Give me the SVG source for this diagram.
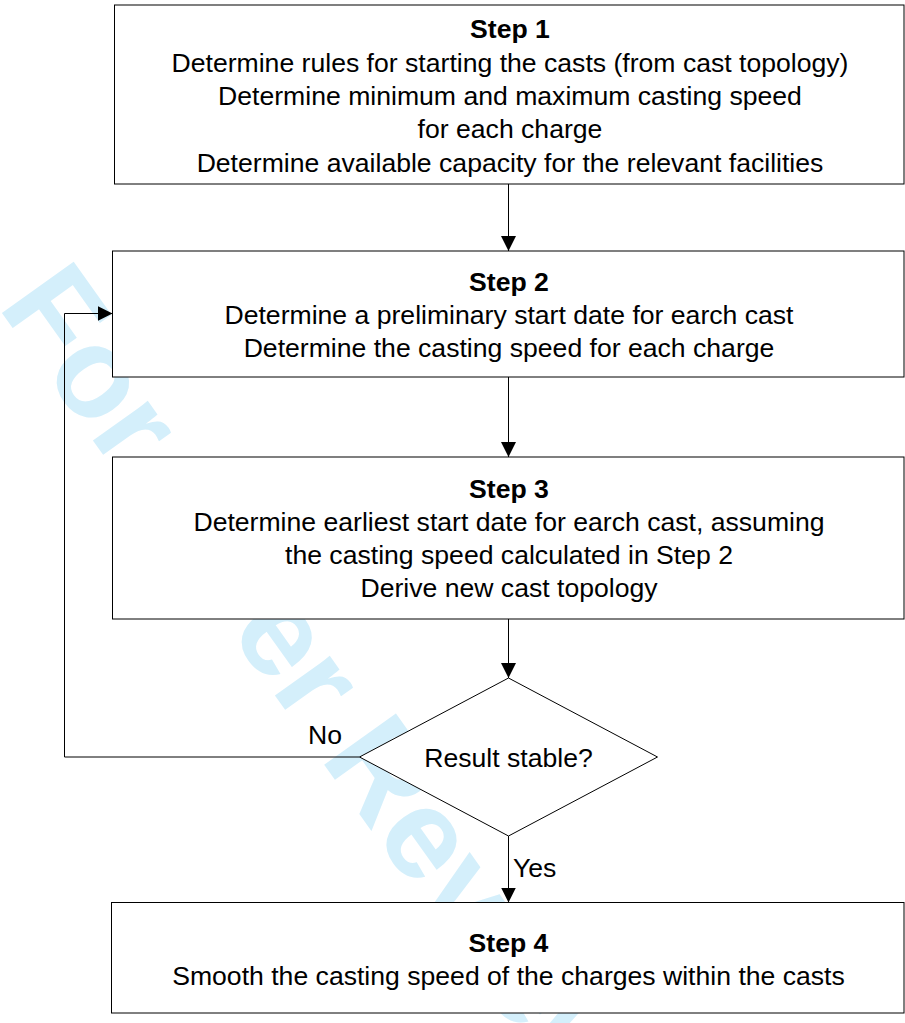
<svg xmlns="http://www.w3.org/2000/svg" width="905" height="1023" viewBox="0 0 905 1023">
<style>
  .box { fill: #ffffff; stroke: #000000; stroke-width: 1; }
  .t { font-family: "Liberation Sans", Arial, sans-serif; font-size: 26.6px; fill: #000000; text-anchor: middle; }
  .b { font-weight: bold; }
  .lbl { font-family: "Liberation Sans", Arial, sans-serif; font-size: 26.6px; fill: #000000; }
  .wm { font-family: "Liberation Sans", Arial, sans-serif; font-size: 128px; font-weight: bold; fill: #d4effb; }
  .conn { fill: none; stroke: #000000; stroke-width: 1; }
</style>
<defs>
  <marker id="arr" viewBox="0 0 15 15" refX="15" refY="7.5" markerWidth="15" markerHeight="15" orient="auto" markerUnits="userSpaceOnUse">
    <path d="M0,0 L15,7.5 L0,15 z" fill="#000000"/>
  </marker>
</defs>
<rect width="905" height="1023" fill="#ffffff"/>
<text class="wm" transform="translate(-3,306) rotate(54.5)">For Peer Review</text>

<g id="connectors">
  <line class="conn" x1="508.5" y1="184" x2="508.5" y2="251" marker-end="url(#arr)"/>
  <line class="conn" x1="508.5" y1="377" x2="508.5" y2="457" marker-end="url(#arr)"/>
  <line class="conn" x1="508.5" y1="619" x2="508.5" y2="678" marker-end="url(#arr)"/>
  <line class="conn" x1="508.5" y1="836" x2="508.5" y2="902.5" marker-end="url(#arr)"/>
  <polyline class="conn" points="359.5,757 64.5,757 64.5,313.5 112.5,313.5" marker-end="url(#arr)"/>
</g>

<g id="step1">
  <rect class="box" x="114.5" y="5" width="789.5" height="179"/>
  <text class="t b" x="510" y="38.3">Step 1</text>
  <text class="t" x="510" y="71.7">Determine rules for starting the casts (from cast topology)</text>
  <text class="t" x="510" y="105">Determine minimum and maximum casting speed</text>
  <text class="t" x="510" y="138.3">for each charge</text>
  <text class="t" x="510" y="171.7">Determine available capacity for the relevant facilities</text>
</g>

<g id="step2">
  <rect class="box" x="112.5" y="251" width="791.5" height="126"/>
  <text class="t b" x="509" y="290.5">Step 2</text>
  <text class="t" x="509" y="323.8">Determine a preliminary start date for earch cast</text>
  <text class="t" x="509" y="357.1">Determine the casting speed for each charge</text>
</g>

<g id="step3">
  <rect class="box" x="112.5" y="457" width="791.5" height="162"/>
  <text class="t b" x="509" y="497.5">Step 3</text>
  <text class="t" x="509" y="530.7">Determine earliest start date for earch cast, assuming</text>
  <text class="t" x="509" y="564">the casting speed calculated in Step 2</text>
  <text class="t" x="509" y="597.3">Derive new cast topology</text>
</g>

<g id="decision">
  <polygon class="box" points="508.5,678 657.5,757 508.5,836 359.5,757"/>
  <text class="t" x="508.5" y="766.7">Result stable?</text>
</g>

<g id="labels">
  <text class="lbl" x="308" y="743.5">No</text>
  <text class="lbl" x="513" y="877">Yes</text>
</g>

<g id="step4">
  <rect class="box" x="111.5" y="902.5" width="792.5" height="110.5"/>
  <text class="t b" x="508.5" y="951.7">Step 4</text>
  <text class="t" x="508.5" y="985">Smooth the casting speed of the charges within the casts</text>
</g>
</svg>
